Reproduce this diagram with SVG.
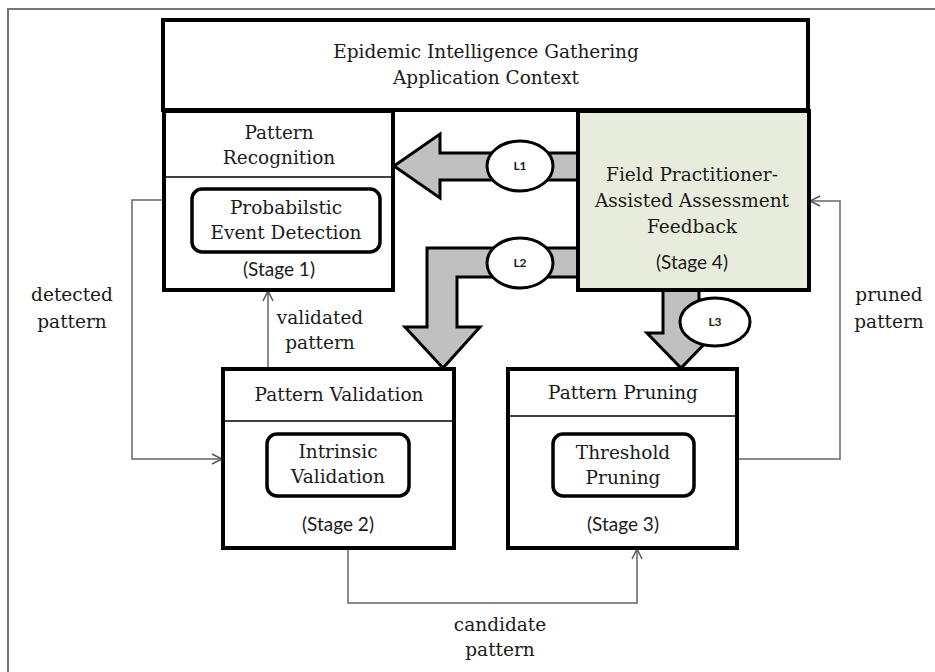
<svg xmlns="http://www.w3.org/2000/svg" width="935" height="672" viewBox="0 0 935 672">
<defs>
<marker id="open" viewBox="0 0 12 12" refX="11" refY="6" markerWidth="12" markerHeight="12" markerUnits="userSpaceOnUse" orient="auto">
<path d="M1,1 L11,6 L1,11" fill="none" stroke="#555" stroke-width="1.5"/>
</marker>
<style>
.box{fill:#fff;stroke:#000;stroke-width:4}
.inner{fill:#fff;stroke:#000;stroke-width:3.5}
.div{stroke:#000;stroke-width:1.5}
.t{font-family:"DejaVu Serif","Liberation Serif",serif;font-size:18.5px;fill:#1a1a1a;text-anchor:middle}
.s{font-family:Lato,"Liberation Sans",sans-serif;font-size:19px;fill:#1a1a1a;text-anchor:middle}
.big{fill:#c0c0c0;stroke:#000;stroke-width:3;stroke-linejoin:miter}
.ell{fill:#fff;stroke:#000;stroke-width:3}
.lbl{font-family:Lato,"Liberation Sans",sans-serif;font-size:12px;font-weight:bold;fill:#1a1a1a;text-anchor:middle}
.con{fill:none;stroke:#666;stroke-width:1.5}
</style>
</defs>
<rect x="8" y="9" width="940" height="680" fill="none" stroke="#777" stroke-width="2"/>

<g id="connectors">
<path class="con" d="M164,200 L132,200 L132,459 L222,459" marker-end="url(#open)"/>
<path class="con" d="M268,369 L268,291" marker-end="url(#open)"/>
<path class="con" d="M348,549 L348,603 L637,603 L637,549" marker-end="url(#open)"/>
<path class="con" d="M738,459 L840,459 L840,201 L810,201" marker-end="url(#open)"/>
<g id="L1">
<path class="big" d="M580,153 L440,153 L440,134 L394,166 L440,198 L440,180 L580,180 Z"/>
<ellipse class="ell" cx="520" cy="166" rx="33" ry="25"/>
<text class="lbl" x="520" y="170">L1</text>
</g>
<g id="L2">
<path class="big" d="M580,248 L427,248 L427,327 L405,327 L443,368 L480,327 L457,327 L457,277 L580,277 Z"/>
<ellipse class="ell" cx="520" cy="263" rx="33" ry="25"/>
<text class="lbl" x="520" y="267">L2</text>
</g>
<g id="L3">
<path class="big" d="M663,290 L663,333 L647,333 L681,368 L715,333 L699,333 L699,290 Z"/>
<ellipse class="ell" cx="715" cy="322" rx="35" ry="24"/>
<text class="lbl" x="715" y="326">L3</text>
</g>
</g>

<g id="context">
<rect class="box" x="163" y="20" width="645" height="90"/>
<text class="t" x="486" y="58">Epidemic Intelligence Gathering</text>
<text class="t" x="486" y="84">Application Context</text>
</g>

<g id="stage1">
<rect class="box" x="164" y="111" width="229" height="179"/>
<line class="div" x1="164" y1="177" x2="393" y2="177"/>
<text class="t" x="279" y="139">Pattern</text>
<text class="t" x="279" y="164">Recognition</text>
<rect class="inner" x="192" y="189" width="188" height="63" rx="10"/>
<text class="t" x="286" y="214">Probabilstic</text>
<text class="t" x="286" y="239">Event Detection</text>
<text class="s" x="279" y="276">(Stage 1)</text>
</g>

<g id="stage4">
<rect class="box" x="578" y="111" width="231" height="179" style="fill:#e8ecdc"/>
<text class="t" x="692" y="181">Field Practitioner-</text>
<text class="t" x="692" y="207">Assisted Assessment</text>
<text class="t" x="692" y="233">Feedback</text>
<text class="s" x="692" y="269">(Stage 4)</text>
</g>

<g id="stage2">
<rect class="box" x="223" y="369" width="231" height="179"/>
<line class="div" x1="223" y1="421" x2="454" y2="421"/>
<text class="t" x="339" y="401">Pattern Validation</text>
<rect class="inner" x="267" y="434" width="142" height="62" rx="10"/>
<text class="t" x="338" y="458">Intrinsic</text>
<text class="t" x="338" y="483">Validation</text>
<text class="s" x="338" y="531">(Stage 2)</text>
</g>

<g id="stage3">
<rect class="box" x="508" y="369" width="229" height="179"/>
<line class="div" x1="508" y1="416" x2="737" y2="416"/>
<text class="t" x="623" y="399">Pattern Pruning</text>
<rect class="inner" x="553" y="434" width="141" height="62" rx="10"/>
<text class="t" x="623" y="459">Threshold</text>
<text class="t" x="623" y="484">Pruning</text>
<text class="s" x="623" y="531">(Stage 3)</text>
</g>

<g id="labels">
<text class="t" x="72" y="301">detected</text>
<text class="t" x="72" y="328">pattern</text>
<text class="t" x="320" y="324">validated</text>
<text class="t" x="320" y="349">pattern</text>
<text class="t" x="889" y="301">pruned</text>
<text class="t" x="889" y="328">pattern</text>
<text class="t" x="500" y="631">candidate</text>
<text class="t" x="500" y="656">pattern</text>
</g>
</svg>
